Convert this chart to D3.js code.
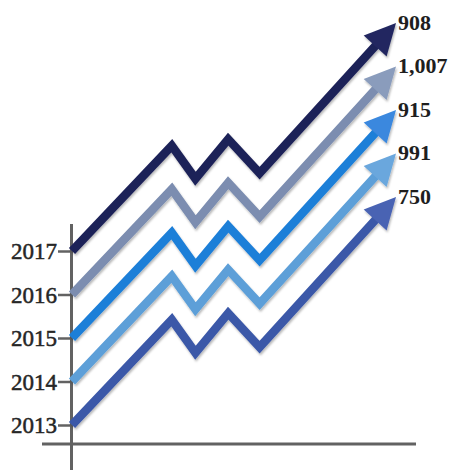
<!DOCTYPE html>
<html>
<head>
<meta charset="utf-8">
<script src="https://cdn.jsdelivr.net/npm/d3@7"></script>
<style>
  html, body { margin: 0; padding: 0; background: #fff; }
  svg { display: block; }
</style>
</head>
<body>
<svg id="chart" width="450" height="470"></svg>
<script>
// Yearly totals, one rising arrow per year
const years = [2013, 2014, 2015, 2016, 2017];
const totals = [750, 991, 915, 1007, 908];
const arrowColors = ["#3b58a8", "#5d9fd8", "#1f7fd8", "#7b8db0", "#1f2359"];
const headColors  = ["#4a63b3", "#6aa7dd", "#3a88de", "#8a9cbc", "#222860"];

// Zig-zag path of every arrow: progress along the run (0..100)
// and the rise above its starting year, in year units
const zigProgress = [0, 30.8, 38.1, 48.2, 57.9, 100];
const zigRise     = [0, 2.42, 1.66, 2.57, 1.79, 5.24];

const svg = d3.select("#chart");

const x = d3.scaleLinear().domain([0, 100]).range([72, 396]);
const y = d3.scaleLinear().domain([2013, 2017]).range([425, 251]);

// soft shadow under the arrows
const defs = svg.append("defs");
const f = defs.append("filter").attr("id", "shadow")
  .attr("x", "-10%").attr("y", "-10%").attr("width", "130%").attr("height", "130%");
f.append("feDropShadow").attr("dx", 1).attr("dy", 2)
  .attr("stdDeviation", 1.3).attr("flood-color", "#000").attr("flood-opacity", 0.28);

// axes
const axisColor = "#626262";
svg.append("line")
  .attr("x1", 71.5).attr("x2", 71.5).attr("y1", 224).attr("y2", 470)
  .attr("stroke", axisColor).attr("stroke-width", 3);
svg.append("line")
  .attr("x1", 42).attr("x2", 416).attr("y1", 444).attr("y2", 444)
  .attr("stroke", axisColor).attr("stroke-width", 3);

const yAxis = d3.axisLeft(y)
  .tickValues(years)
  .tickFormat(d3.format("d"))
  .tickSize(13)
  .tickPadding(1);

const gAxis = svg.append("g").attr("transform", "translate(71,0)").call(yAxis);
gAxis.select(".domain").remove();
gAxis.selectAll(".tick line").attr("stroke", axisColor).attr("stroke-width", 2.5);
gAxis.selectAll(".tick text")
  .attr("fill", "#262626")
  .attr("stroke", "#262626")
  .attr("stroke-width", 0.5)
  .attr("font-family", "'Liberation Serif', 'DejaVu Serif', serif")
  .attr("font-size", 23)
  .attr("dy", "0.34em");

// arrows
const headLen = 31, headHalf = 15.5;
const arrows = svg.append("g").attr("filter", "url(#shadow)");

years.forEach((yr, i) => {
  const pts = zigProgress.map((p, k) => [x(p), y(yr + zigRise[k])]);
  const tip = pts[pts.length - 1];
  const prev = pts[pts.length - 2];
  const dx = tip[0] - prev[0], dy = tip[1] - prev[1];
  const len = Math.hypot(dx, dy);
  const ux = dx / len, uy = dy / len;
  const base = [tip[0] - ux * headLen, tip[1] - uy * headLen];
  const shaftPts = pts.slice(0, -1).concat([[tip[0] - ux * (headLen - 2), tip[1] - uy * (headLen - 2)]]);

  arrows.append("path")
    .attr("d", d3.line()(shaftPts))
    .attr("fill", "none")
    .attr("stroke", arrowColors[i])
    .attr("stroke-width", 8.5)
    .attr("stroke-linejoin", "miter")
    .attr("stroke-linecap", "butt");

  const px = -uy, py = ux;
  arrows.append("path")
    .attr("d", d3.line()([
      tip,
      [base[0] + px * headHalf, base[1] + py * headHalf],
      [base[0] - px * headHalf, base[1] - py * headHalf]
    ]) + "Z")
    .attr("fill", headColors[i]);

  svg.append("text")
    .attr("x", tip[0] + 2)
    .attr("y", tip[1] - 1)
    .attr("dy", "0.35em")
    .attr("fill", "#1e1e1e")
    .attr("font-family", "'Liberation Serif', 'DejaVu Serif', serif")
    .attr("font-weight", "bold")
    .attr("font-size", 22)
    .text(d3.format(",")(totals[i]));
});
</script>
</body>
</html>
